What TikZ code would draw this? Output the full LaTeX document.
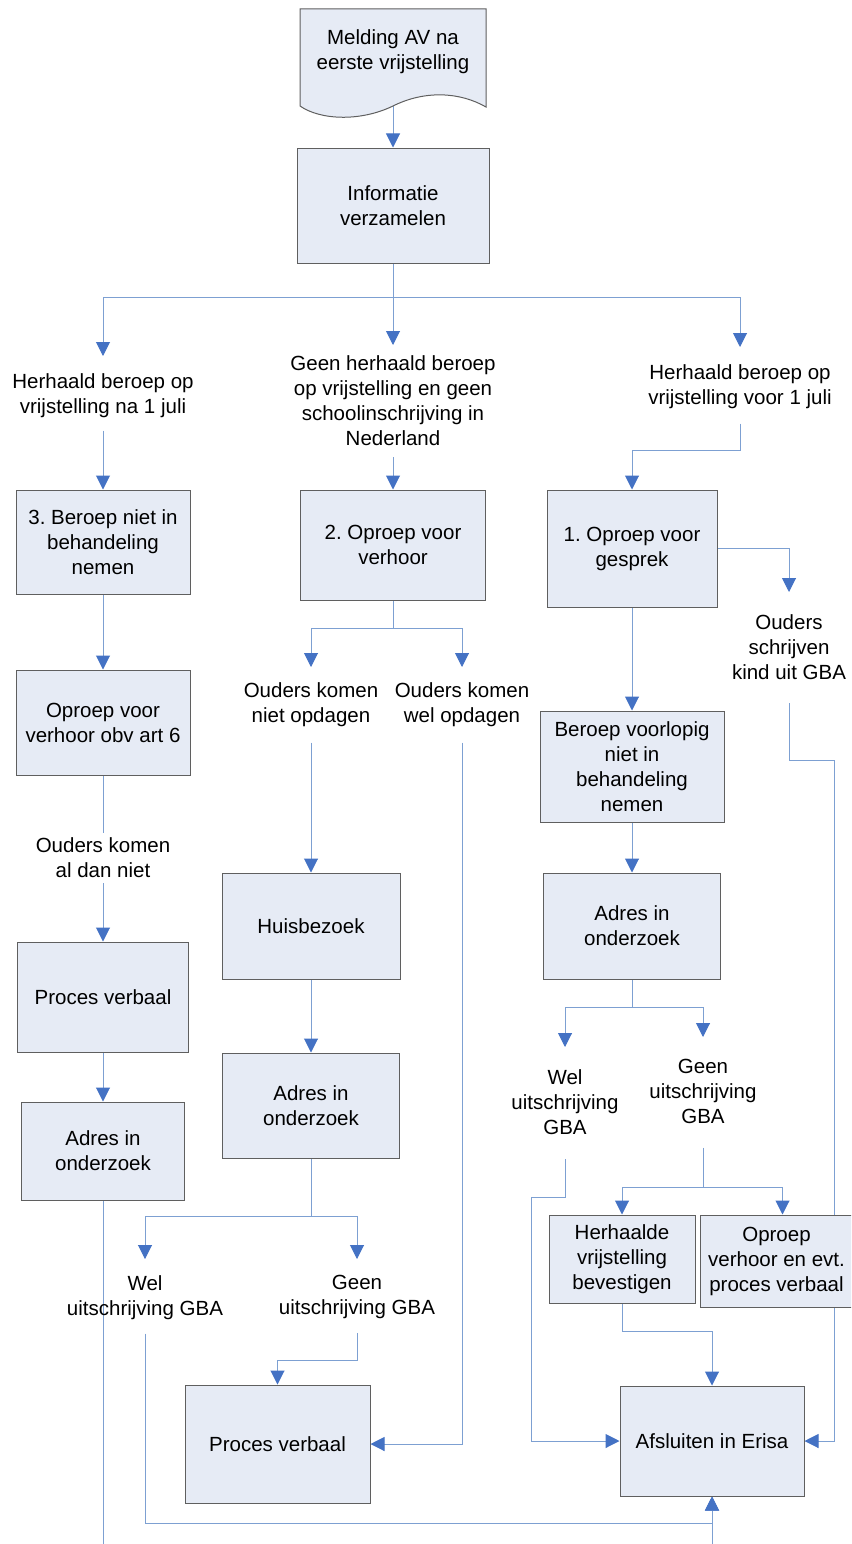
\documentclass[tikz,border=0pt]{standalone}
\usepackage{fontspec}
\setmainfont{Liberation Sans}
\usetikzlibrary{arrows.meta,backgrounds}
\definecolor{boxfill}{RGB}{230,235,245}
\definecolor{boxline}{RGB}{95,95,95}
\definecolor{conncol}{RGB}{125,160,210}
\definecolor{tipcol}{RGB}{68,114,196}
\begin{document}
\frenchspacing
\begin{tikzpicture}[x=1pt,y=-1pt,
  txt/.style={font=\fontsize{20.5pt}{25pt}\selectfont\frenchspacing, align=center, inner sep=0pt},
  box/.style={txt, draw=boxline, fill=boxfill, line width=1pt},
  lbl/.style={txt, anchor=north},
  conn/.style={draw=conncol, line width=1pt},
  arr/.style={conn, -{Triangle[width=14pt,length=14pt,color=tipcol]}}]
\useasboundingbox (0,0) rectangle (851,1544);
\clip (0,0) rectangle (851,1544);

% document shape
\path[draw=boxline, fill=boxfill, line width=1pt] (300,9) -- (486,9) -- (486,107)
  .. controls (460,92) and (425,90) .. (393,106)
  .. controls (360,122) and (320,120) .. (300,106) -- cycle;
\node[txt, minimum width=186pt, minimum height=86pt] (doc) at (393,52) {Melding AV na\\eerste vrijstelling};

% boxes
\node[box, minimum width=192pt, minimum height=115pt] (info) at (393,205.5) {Informatie\\verzamelen};
\node[box, minimum width=174pt, minimum height=104pt] (b3) at (103,542) {3. Beroep niet in\\behandeling\\nemen};
\node[box, minimum width=185pt, minimum height=110pt] (b2) at (393,545) {2. Oproep voor\\verhoor};
\node[box, minimum width=170pt, minimum height=117pt] (b1) at (632,548.5) {1. Oproep voor\\gesprek};
\node[box, minimum width=184pt, minimum height=111pt] (voorl) at (632,766.5) {Beroep voorlopig\\niet in\\behandeling\\nemen};
\node[box, minimum width=177pt, minimum height=106pt] (adresR) at (632,926) {Adres in\\onderzoek};
\node[box, minimum width=174pt, minimum height=105pt] (oproepL) at (103,722.5) {Oproep voor\\verhoor obv art 6};
\node[box, minimum width=171pt, minimum height=110pt] (pvL) at (103,997) {Proces verbaal};
\node[box, minimum width=163pt, minimum height=98pt] (adresL) at (103,1151) {Adres in\\onderzoek};
\node[box, minimum width=178pt, minimum height=106pt] (huis) at (311,926) {Huisbezoek};
\node[box, minimum width=177pt, minimum height=105pt] (adresM) at (311,1105.5) {Adres in\\onderzoek};
\node[box, minimum width=185pt, minimum height=118pt] (pvM) at (277.5,1444) {Proces verbaal};
\node[box, minimum width=146pt, minimum height=88pt] (herh) at (622,1259) {Herhaalde\\vrijstelling\\bevestigen};
\node[box, minimum width=153pt, minimum height=92pt] (oproepR) at (776.5,1261) {Oproep\\verhoor en evt.\\proces verbaal};
\node[box, minimum width=184pt, minimum height=110pt] (afsl) at (712,1441) {Afsluiten in Erisa};

% labels
\node[lbl] (lblL) at (103,373) {Herhaald beroep op\\vrijstelling na 1 juli};
\node[lbl] (lblM) at (393,355) {Geen herhaald beroep\\op vrijstelling en geen\\schoolinschrijving in\\Nederland};
\node[lbl] (lblR) at (740,364) {Herhaald beroep op\\vrijstelling voor 1 juli};
\node[lbl] (lblNiet) at (311,682) {Ouders komen\\niet opdagen};
\node[lbl] (lblWel) at (462,682) {Ouders komen\\wel opdagen};
\node[lbl] (lblSchr) at (789,614) {Ouders\\schrijven\\kind uit GBA};
\node[lbl] (lblAlDan) at (103,837) {Ouders komen\\al dan niet};
\node[lbl] (lblWelR) at (565,1069) {Wel\\uitschrijving\\GBA};
\node[lbl] (lblGeenR) at (703,1059) {Geen\\uitschrijving\\GBA};
\node[lbl] (lblWelM) at (145,1275) {Wel\\uitschrijving GBA};
\node[lbl] (lblGeenM) at (357,1275) {Geen\\uitschrijving GBA};

\begin{scope}[on background layer]
\clip (0,0) rectangle (851,1544);
\draw[arr] ([yshift=-11pt]doc.south) -- (info.north);
\draw[arr] (info.south) -- ++(0,34) -| ([yshift=17pt]lblL.north);
\draw[arr] (info.south) -- ([yshift=10pt]lblM.north);
\draw[arr] (info.south) -- ++(0,34) -| ([yshift=17pt]lblR.north);
\draw[arr] ([yshift=-13pt]lblL.south) -- (b3.north);
\draw[arr] ([yshift=-12pt]lblM.south) -- (b2.north);
\draw[arr] ([yshift=-15pt]lblR.south) -- ++(0,27) -| (b1.north);
% left column
\draw[arr] (b3.south) -- (oproepL.north);
\draw[conn] (oproepL.south) -- ([yshift=4pt]lblAlDan.north);
\draw[arr] ([yshift=-6pt]lblAlDan.south) -- (pvL.north);
\draw[arr] (pvL.south) -- (adresL.north);
\draw[arr] (adresL.south) -- ++(0,370) -| (afsl.south);
% middle column
\draw[arr] (b2.south) -- ++(0,28) -| ([yshift=15pt]lblNiet.north);
\draw[arr] (b2.south) -- ++(0,28) -| ([yshift=15pt]lblWel.north);
\draw[arr] ([yshift=-16pt]lblNiet.south) -- (huis.north);
\draw[arr] ([yshift=-16pt]lblWel.south) |- (pvM.east);
\draw[arr] (huis.south) -- (adresM.north);
\draw[arr] (adresM.south) -- ++(0,58) -| ([yshift=16pt]lblWelM.north);
\draw[arr] (adresM.south) -- ++(0,58) -| ([yshift=16pt]lblGeenM.north);
\draw[arr] ([yshift=-14pt]lblGeenM.south) -- ++(0,28) -| (pvM.north);
\draw[arr] ([yshift=-14pt]lblWelM.south) -- ++(0,190) -| (afsl.south);
% right column
\draw[arr] (b1.east) -| ([yshift=22pt]lblSchr.north);
\draw[arr] ([yshift=-24pt]lblSchr.south) -- ++(0,57) -- ++(45,0) |- (afsl.east);
\draw[arr] (b1.south) -- (voorl.north);
\draw[arr] (voorl.south) -- (adresR.north);
\draw[arr] (adresR.south) -- ++(0,28) -| ([yshift=22pt]lblWelR.north);
\draw[arr] (adresR.south) -- ++(0,28) -| ([yshift=22pt]lblGeenR.north);
\draw[arr] ([yshift=-25pt]lblWelR.south) -- ++(0,38) -- ++(-34,0) |- (afsl.west);
\draw[arr] ([yshift=-24pt]lblGeenR.south) -- ++(0,40) -| (herh.north);
\draw[arr] ([yshift=-24pt]lblGeenR.south) -- ++(0,40) -| ([xshift=6pt]oproepR.north);
\draw[arr] (herh.south) -- ++(0,28) -| (afsl.north);
\end{scope}
\end{tikzpicture}
\end{document}
